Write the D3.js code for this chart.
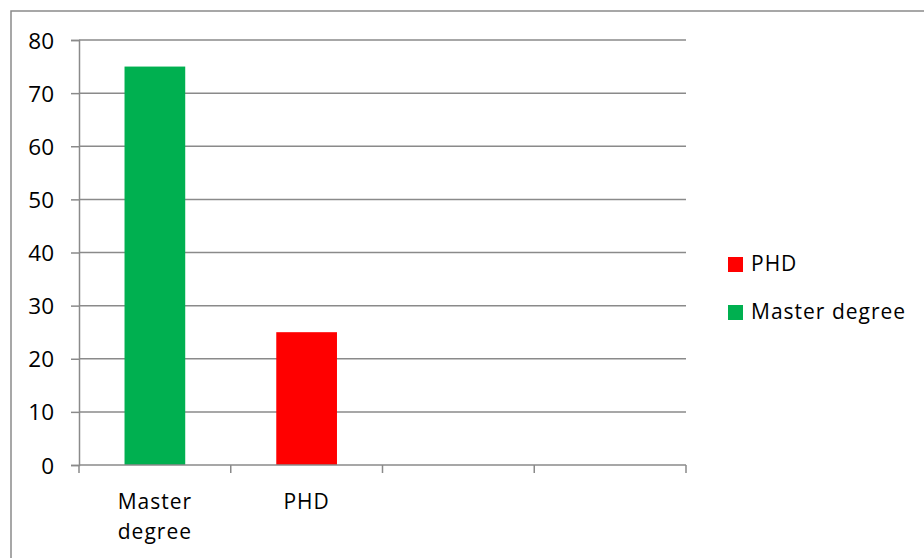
<!DOCTYPE html>
<html>
<head>
<meta charset="utf-8">
<script src="https://cdn.jsdelivr.net/npm/d3@7/dist/d3.min.js"></script>
<style>
  html, body { margin: 0; padding: 0; background: #fff; }
  svg { display: block; }
  text { font-family: "Open Sans", "Noto Sans", sans-serif; fill: #000; }
</style>
</head>
<body>
<svg id="chart" width="924" height="558"></svg>
<script>
// Category slots on the x axis (two slots are left empty)
const categories = ["Master degree", "PHD", "", ""];
// Multi-line labels for each slot
const categoryLabels = [["Master", "degree"], ["PHD"], [], []];
// Value per category (null = no bar)
const values = [75, 25, null, null];
const barColors = ["#00B050", "#FF0000", null, null];
// Legend entries (top to bottom)
const legendNames = ["PHD", "Master degree"];
const legendColors = ["#FF0000", "#00B050"];
// Y axis ticks
const yTicks = [0, 10, 20, 30, 40, 50, 60, 70, 80];

const svg = d3.select("#chart");
const gridColor = "#8a8a8a";
const fontSize = 21;

const plot = { left: 79, right: 686, top: 40, bottom: 465 };

const x = d3.scaleBand()
  .domain(d3.range(categories.length))
  .range([plot.left, plot.right])
  .paddingInner(0)
  .paddingOuter(0);

const y = d3.scaleLinear()
  .domain([0, 80])
  .range([plot.bottom, plot.top]);

// Chart frame
svg.append("rect")
  .attr("x", 11).attr("y", 11)
  .attr("width", 940).attr("height", 580)
  .attr("fill", "none")
  .attr("stroke", gridColor)
  .attr("stroke-width", 1.5);

// Horizontal gridlines + y axis ticks and labels
const yAxis = d3.axisLeft(y)
  .tickValues(yTicks)
  .tickSize(8)
  .tickPadding(0)
  .tickFormat(d3.format("d"));

const gy = svg.append("g")
  .attr("transform", `translate(${plot.left},0)`)
  .call(yAxis);
gy.select(".domain").attr("stroke", gridColor).attr("stroke-width", 1.5);
gy.selectAll(".tick line").attr("stroke", gridColor).attr("stroke-width", 1.5);
gy.selectAll(".tick text")
  .attr("x", -25)
  .attr("dy", "0.36em")
  .style("font-size", "22.5px")
  .style("font-family", "'Open Sans', sans-serif")
  .attr("fill", "#000");

svg.append("g")
  .selectAll("line")
  .data(yTicks.filter(d => d > 0))
  .join("line")
  .attr("x1", plot.left).attr("x2", plot.right)
  .attr("y1", d => y(d)).attr("y2", d => y(d))
  .attr("stroke", gridColor)
  .attr("stroke-width", 1.5);

// Bars
const barW = x.bandwidth() * 0.4;
svg.append("g")
  .selectAll("rect")
  .data(values.map((v, i) => ({ v, i })).filter(d => d.v != null))
  .join("rect")
  .attr("x", d => x(d.i) + (x.bandwidth() - barW) / 2)
  .attr("width", barW)
  .attr("y", d => y(d.v))
  .attr("height", d => y(0) - y(d.v))
  .attr("fill", d => barColors[d.i]);

// X axis baseline with slot boundary ticks
svg.append("line")
  .attr("x1", plot.left).attr("x2", plot.right)
  .attr("y1", y(0)).attr("y2", y(0))
  .attr("stroke", gridColor).attr("stroke-width", 1.5);

const boundaries = d3.range(categories.length + 1)
  .map(i => i < categories.length ? x(i) : plot.right);
svg.append("g")
  .selectAll("line")
  .data(boundaries)
  .join("line")
  .attr("x1", d => d).attr("x2", d => d)
  .attr("y1", y(0)).attr("y2", y(0) + 8)
  .attr("stroke", gridColor).attr("stroke-width", 1.5);

// Category labels
const xl = svg.append("g");
categoryLabels.forEach((lines, i) => {
  const cx = x(i) + x.bandwidth() / 2;
  lines.forEach((t, k) => {
    xl.append("text")
      .attr("x", cx)
      .attr("y", 509 + k * 30)
      .attr("text-anchor", "middle")
      .style("font-size", fontSize + "px")
      .style("letter-spacing", "1px")
      .text(t);
  });
});

// Legend
const lg = svg.append("g");
legendNames.forEach((name, i) => {
  const yy = 257 + i * 48;
  lg.append("rect")
    .attr("x", 728).attr("y", yy)
    .attr("width", 15).attr("height", 15)
    .attr("fill", legendColors[i]);
  lg.append("text")
    .attr("x", 751).attr("y", yy + 14)
    .style("font-size", fontSize + "px")
    .style("letter-spacing", "1px")
    .text(name);
});
</script>
</body>
</html>
